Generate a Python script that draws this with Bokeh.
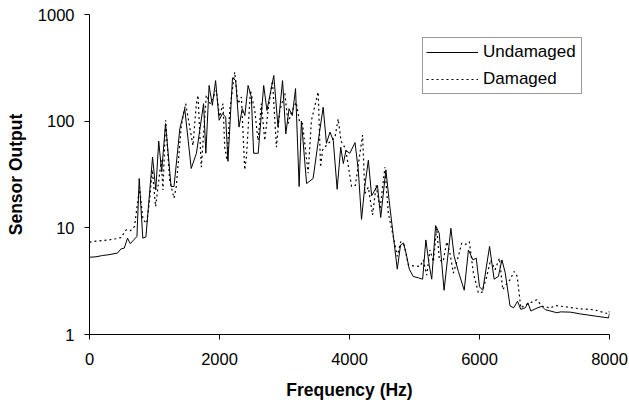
from bokeh.plotting import figure
from bokeh.models import FixedTicker, Legend, LegendItem
from bokeh.embed import file_html
from bokeh.resources import INLINE

freq_undamaged = [0, 100, 200, 300, 430, 485, 535, 585, 627, 730, 765, 820, 868, 970, 1020,
                  1065, 1110, 1170, 1255, 1300, 1390, 1465, 1565, 1645, 1755, 1790, 1840, 1890,
                  1940, 1995, 2045, 2095, 2130, 2200, 2250, 2300, 2350, 2390, 2440, 2490, 2525,
                  2595, 2680, 2730, 2835, 2900, 2970, 3020, 3070, 3120, 3170, 3225, 3260, 3340,
                  3440, 3535, 3595, 3645, 3700, 3750, 3810, 3865, 3905, 3945, 4005, 4085, 4135,
                  4185, 4235, 4290, 4340, 4380, 4430, 4480, 4560, 4610, 4675, 4735, 4785, 4830,
                  4870, 4920, 4980, 5060, 5125, 5175, 5225, 5265, 5325, 5380, 5455, 5560, 5610,
                  5675, 5765, 5830, 5900, 5950, 6000, 6050, 6155, 6225, 6290, 6345, 6395, 6470,
                  6525, 6585, 6635, 6705, 6745, 6790, 6885, 6960, 7010, 7190, 7250, 7400, 7550,
                  7810, 7985, 8000]
undamaged = [5.3, 5.35, 5.5, 5.6, 5.8, 6.35, 6.45, 8.0, 7.1, 8.3, 29, 8.0, 8.2, 46, 22.6,
             65, 33.5, 95, 24.4, 24.4, 85, 131, 36, 50, 146, 50, 216, 141,
             240, 102, 118, 109, 42, 255, 240, 88, 131, 113, 216, 168, 50,
             50, 216, 126, 268, 88, 240, 76, 131, 113, 202, 24.4, 100, 26,
             29, 76, 135, 62, 79, 66, 23, 57, 40, 53, 50, 63, 35,
             12, 24.4, 43, 20, 22, 25, 12.5, 35, 18, 8.3, 4.1, 6.9, 7.2,
             5.8, 4.1, 3.5, 3.4, 3.3, 7.7, 4.5, 3.3, 10.5, 8.9, 2.6, 9.9, 5.4,
             3.9, 2.6, 6.2, 5.0, 5.2, 2.8, 2.6, 6.7, 3.3, 3.5, 5.0, 3.8, 1.85,
             1.78, 2.05, 1.72, 1.78, 1.98, 1.66, 1.77, 1.84, 1.71, 1.6, 1.63, 1.62, 1.56,
             1.48, 1.43, 1.58]

freq_damaged = [0, 100, 200, 300, 400, 485, 565, 630, 693, 770, 822, 880, 924, 966, 1017,
                1104, 1130, 1171, 1233, 1300, 1335, 1413, 1479, 1592, 1644, 1669, 1720, 1757,
                1797, 1859, 1951, 2000, 2054, 2080, 2116, 2157, 2234, 2285, 2337, 2388, 2414,
                2476, 2542, 2593, 2644, 2696, 2750, 2815, 2876, 2927, 3005, 3056, 3107, 3180,
                3230, 3277, 3364, 3415, 3518, 3555, 3585, 3650, 3724, 3775, 3826, 3870, 3940,
                4032, 4090, 4150, 4201, 4237, 4290, 4355, 4410, 4470, 4545, 4597, 4670, 4735,
                4787, 4840, 4905, 4981, 5085, 5136, 5187, 5239, 5290, 5341, 5383, 5440, 5496,
                5540, 5598, 5675, 5726, 5790, 5844, 5906, 5983, 6040, 6112, 6170, 6240, 6307,
                6358, 6420, 6471, 6533, 6580, 6636, 6703, 6780, 6883, 6960, 7088, 7165, 7345,
                7550, 7755, 7986, 8000]
damaged = [7.35, 7.5, 7.6, 7.7, 7.9, 8.1, 9.6, 9.4, 10.3, 24, 12, 11, 18.3, 35, 15.8,
           43, 22.6, 102, 28, 19, 24.4, 92, 146, 59, 146, 175, 37, 79,
           175, 146, 195, 110, 146, 57, 43, 126, 288, 146, 168, 35, 46,
           195, 126, 66, 146, 66, 130, 240, 57, 126, 182, 95, 122, 150,
           100, 95, 32.5, 102, 188, 37, 53.5, 60, 66, 70, 105, 65, 55,
           24.4, 25, 45, 74, 21, 24, 13.2, 25, 15, 37, 13.7, 8.5, 5.4,
           7.4, 6.9, 4.5, 4.4, 4.35, 5.0, 3.6, 6.2, 4.8, 9.9, 5.0, 4.8, 7.4,
           6.0, 3.77, 5.4, 7.2, 7.0, 7.4, 3.77, 2.45, 2.5, 3.5, 5.0, 4.05, 5.2,
           2.63, 3.0, 3.27, 3.9, 3.5, 1.77, 1.9, 1.98, 2.12, 1.84, 1.77, 1.87, 1.81,
           1.74, 1.71, 1.56, 1.65]

x_ticks = [0, 2000, 4000, 6000, 8000]
y_ticks = [1, 10, 100, 1000]
y_tick_labels = ["1", "10", "100", "1000"]
series_names = ["Undamaged", "Damaged"]

FONT = "Liberation Sans"

p = figure(width=629, height=408, output_backend="svg", toolbar_location=None,
           x_range=(0, 8000), y_range=(1, 1000), y_axis_type="log",
           min_border_left=89, min_border_right=20, min_border_top=14, min_border_bottom=74)
p.outline_line_color = None
p.background_fill_color = "white"
p.border_fill_color = "white"
p.xgrid.visible = False
p.ygrid.visible = False

r1 = p.line(freq_undamaged, undamaged, line_color="black", line_width=1)
r2 = p.line(freq_damaged, damaged, line_color="black", line_width=1.2, line_dash="2 3")

for ax in (p.xaxis[0], p.yaxis[0]):
    ax.axis_line_color = "black"
    ax.major_tick_line_color = "black"
    ax.major_tick_in = 0
    ax.major_tick_out = 5
    ax.minor_tick_line_color = None
    ax.major_label_text_font = FONT
    ax.major_label_text_font_size = "16.5px"
    ax.major_label_text_color = "black"
    ax.axis_label_text_font = FONT
    ax.axis_label_text_font_size = "17.5px"
    ax.axis_label_text_font_style = "bold"
    ax.axis_label_text_color = "black"

p.xaxis[0].ticker = FixedTicker(ticks=x_ticks)
p.xaxis[0].axis_label = "Frequency (Hz)"
p.xaxis[0].major_label_standoff = 13
p.xaxis[0].axis_label_standoff = 12

p.yaxis[0].ticker = FixedTicker(ticks=y_ticks)
p.yaxis[0].major_label_overrides = {t: l for t, l in zip(y_ticks, y_tick_labels)}
p.yaxis[0].axis_label = "Sensor Output"
p.yaxis[0].major_label_standoff = 10
p.yaxis[0].axis_label_standoff = 9

legend = Legend(items=[LegendItem(label=series_names[0], renderers=[r1]),
                       LegendItem(label=series_names[1], renderers=[r2])],
                location=(333, 240))
legend.label_text_font = FONT
legend.label_text_font_size = "17px"
legend.label_text_color = "black"
legend.border_line_color = "#333333"
legend.border_line_width = 1
legend.background_fill_color = "white"
legend.glyph_width = 52
legend.glyph_height = 22
legend.label_height = 22
legend.label_width = 95
legend.label_standoff = 5
legend.padding = 3
legend.spacing = 5
legend.margin = 0
p.add_layout(legend)

open("out.html", "w").write(file_html(p, INLINE))
